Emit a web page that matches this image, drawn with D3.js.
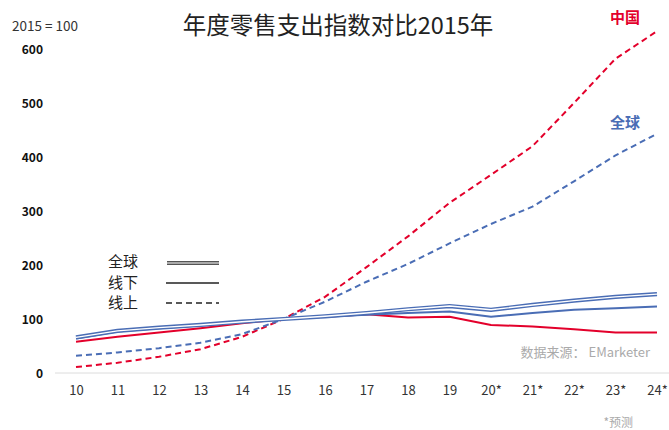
<!DOCTYPE html>
<html><head><meta charset="utf-8">
<script src="https://cdn.jsdelivr.net/npm/d3@7"></script>
<style>
body{margin:0;background:#fff;}
text{font-family:"Noto Sans CJK SC","Noto Sans",sans-serif;}
</style></head>
<body><div id="chart"></div>
<script>
const categories = ["10","11","12","13","14","15","16","17","18","19","20*","21*","22*","23*","24*"];
const globalTotal   = [66,78,84,89,95,100,105,111,118,124,117,126,134,141,146];
const globalOffline = [64,77,83,88,94,100,104,108,111,114,104,111,117,120,123];
const globalOnline  = [32,38,46,56,72,100,132,169,202,240,276,308,355,403,443];
const chinaOffline  = [58,67,75,83,92,100,104,109,103,104,89,86,81,75,75];
const chinaOnline   = [11,19,30,44,67,100,141,196,253,315,367,420,500,582,633];
const yTicks = [0,100,200,300,400,500,600];
const legendItems = ["全球","线下","线上"];

const W=669,H=430;
const RED="#E3002B", BLUE="#4A6DB5";
const svg=d3.select("#chart").append("svg").attr("width",W).attr("height",H);

const x=d3.scalePoint().domain(categories).range([76,657]);
const y=d3.scaleLinear().domain([0,600]).range([373,49]);

// baseline
svg.append("line").attr("x1",55).attr("x2",669).attr("y1",y(0)).attr("y2",y(0))
  .attr("stroke","#dcdcdc").attr("stroke-width",1);

// y tick labels
const yAxis=d3.axisLeft(y).tickValues(yTicks).tickSize(0).tickPadding(0);
const gy=svg.append("g").attr("transform","translate(43,1)").call(yAxis);
gy.select(".domain").remove();
gy.selectAll("text").attr("font-size",12).attr("font-weight","bold").attr("fill","#111")
  .attr("font-family","'Open Sans','Noto Sans',sans-serif");

// x tick labels
const xAxis=d3.axisBottom(x).tickSize(0).tickPadding(0);
const gx=svg.append("g").attr("transform","translate(0,386)").call(xAxis);
gx.select(".domain").remove();
gx.selectAll("text").attr("font-size",13).attr("fill","#333")
  .attr("font-family","'Open Sans','Noto Sans',sans-serif");

const line=d3.line().x((d,i)=>x(categories[i])).y(d=>y(d));

function draw(data,color,opts){
  svg.append("path").datum(data).attr("d",line).attr("fill","none")
    .attr("stroke",color).attr("stroke-width",opts.w||2)
    .attr("stroke-dasharray",opts.dash||null).attr("stroke-linejoin","round");
}
draw(chinaOnline,RED,{w:2,dash:"6,4"});
draw(globalOnline,BLUE,{w:2,dash:"6,4"});
draw(chinaOffline,RED,{w:2});
draw(globalOffline,BLUE,{w:2});
draw(globalTotal,BLUE,{w:4.2});
draw(globalTotal,"#fff",{w:1.4});

// title
svg.append("text").attr("x",338).attr("y",34).attr("text-anchor","middle")
  .attr("font-size",23.5).attr("fill","#222").text("年度零售支出指数对比2015年");
svg.append("text").attr("x",12).attr("y",31).attr("font-size",13.5).attr("fill","#333")
  .attr("font-family","'Open Sans','Noto Sans',sans-serif").text("2015 = 100");

// series labels
svg.append("text").attr("x",610).attr("y",23).attr("font-size",15).attr("font-weight","bold")
  .attr("fill",RED).text("中国");
svg.append("text").attr("x",610).attr("y",128).attr("font-size",15).attr("font-weight","bold")
  .attr("fill",BLUE).text("全球");

// legend
const lg=svg.append("g");
legendItems.forEach((t,i)=>{
  const yy=[262,283,303][i];
  lg.append("text").attr("x",108).attr("y",yy+5).attr("font-size",15).attr("fill","#222").text(t);
  if(i===0){
    lg.append("line").attr("x1",167).attr("x2",219).attr("y1",yy+1).attr("y2",yy+1)
      .attr("stroke","#555").attr("stroke-width",4);
    lg.append("line").attr("x1",167).attr("x2",219).attr("y1",yy+1).attr("y2",yy+1)
      .attr("stroke","#fff").attr("stroke-width",1.2);
  } else {
    lg.append("line").attr("x1",166).attr("x2",219).attr("y1",yy).attr("y2",yy)
      .attr("stroke","#222").attr("stroke-width",1.5)
      .attr("stroke-dasharray",i===2?"6,4":null);
  }
});

// source & footnote
svg.append("text").attr("x",650).attr("y",357).attr("text-anchor","end").attr("font-size",13)
  .attr("fill","#aaa").text("数据来源： EMarketer");
svg.append("text").attr("x",633).attr("y",427).attr("text-anchor","end").attr("font-size",12)
  .attr("fill","#aaa").text("*预测");
</script></body></html>
